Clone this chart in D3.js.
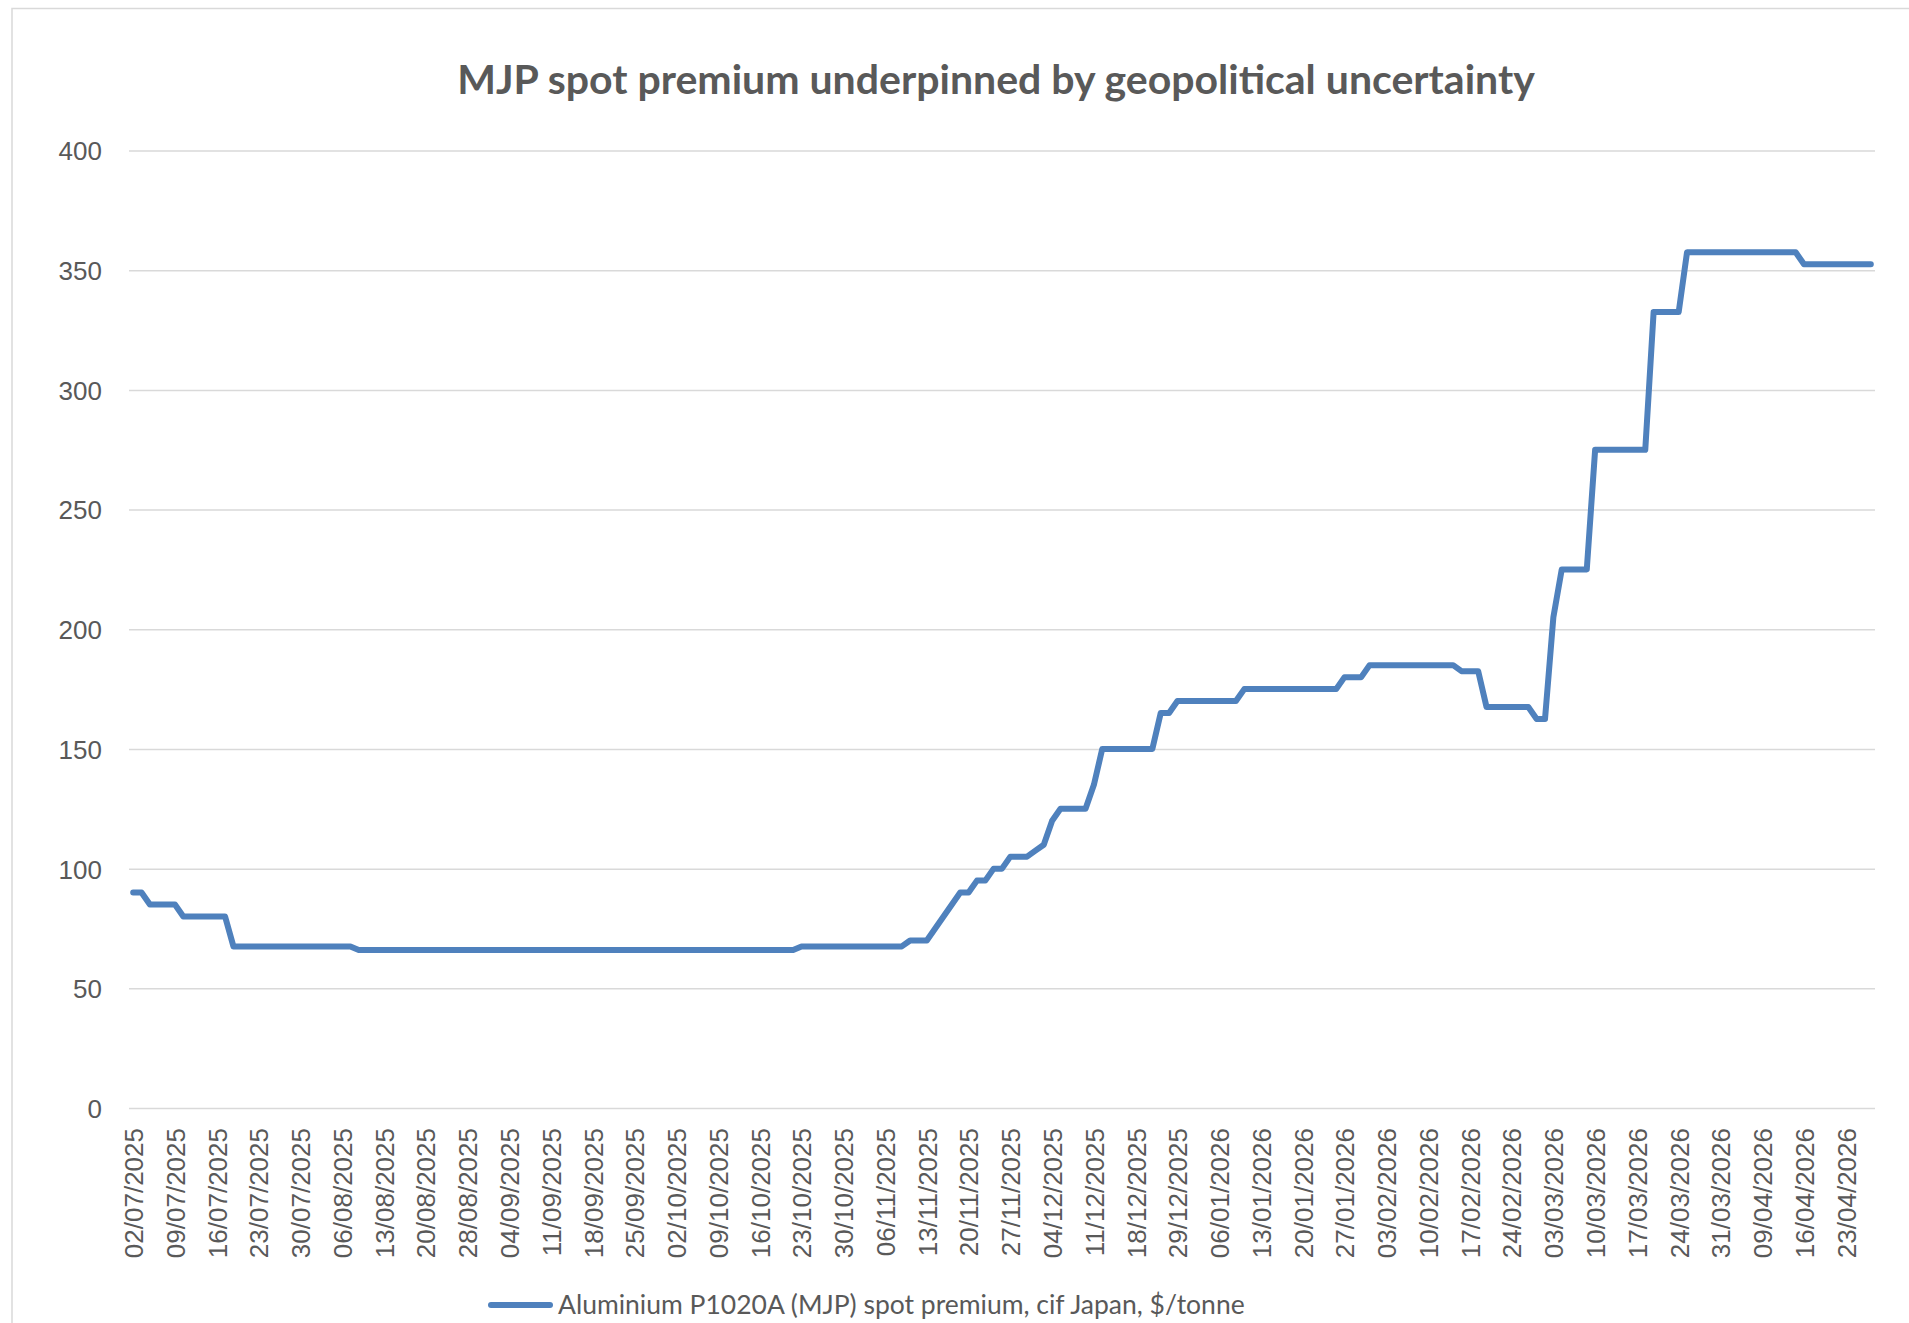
<!DOCTYPE html>
<html>
<head>
<meta charset="utf-8">
<script src="https://cdn.jsdelivr.net/npm/d3@7"></script>
<style>
  body { margin: 0; background: #fff; }
  svg { display: block; font-family: Lato, "Open Sans", sans-serif; }
</style>
</head>
<body>
<svg id="chart"></svg>
<script>
const title = "MJP spot premium underpinned by geopolitical uncertainty";
const seriesName = "Aluminium P1020A (MJP) spot premium, cif Japan, $/tonne";

// one label every 5 business days (UK calendar)
const tickLabels = [
  "02/07/2025", "09/07/2025", "16/07/2025", "23/07/2025", "30/07/2025", "06/08/2025",
  "13/08/2025", "20/08/2025", "28/08/2025", "04/09/2025", "11/09/2025", "18/09/2025",
  "25/09/2025", "02/10/2025", "09/10/2025", "16/10/2025", "23/10/2025", "30/10/2025",
  "06/11/2025", "13/11/2025", "20/11/2025", "27/11/2025", "04/12/2025", "11/12/2025",
  "18/12/2025", "29/12/2025", "06/01/2026", "13/01/2026", "20/01/2026", "27/01/2026",
  "03/02/2026", "10/02/2026", "17/02/2026", "24/02/2026", "03/03/2026", "10/03/2026",
  "17/03/2026", "24/03/2026", "31/03/2026", "09/04/2026", "16/04/2026", "23/04/2026"
];

// daily spot premium, $/tonne
const premium = [
  90, 90, 85, 85, 85, 85, 80, 80, 80, 80,
  80, 80, 67.5, 67.5, 67.5, 67.5, 67.5, 67.5, 67.5, 67.5,
  67.5, 67.5, 67.5, 67.5, 67.5, 67.5, 67.5, 66, 66, 66,
  66, 66, 66, 66, 66, 66, 66, 66, 66, 66,
  66, 66, 66, 66, 66, 66, 66, 66, 66, 66,
  66, 66, 66, 66, 66, 66, 66, 66, 66, 66,
  66, 66, 66, 66, 66, 66, 66, 66, 66, 66,
  66, 66, 66, 66, 66, 66, 66, 66, 66, 66,
  67.5, 67.5, 67.5, 67.5, 67.5, 67.5, 67.5, 67.5, 67.5, 67.5,
  67.5, 67.5, 67.5, 70, 70, 70, 75, 80, 85, 90,
  90, 95, 95, 100, 100, 105, 105, 105, 107.5, 110,
  120, 125, 125, 125, 125, 135, 150, 150, 150, 150,
  150, 150, 150, 165, 165, 170, 170, 170, 170, 170,
  170, 170, 170, 175, 175, 175, 175, 175, 175, 175,
  175, 175, 175, 175, 175, 180, 180, 180, 185, 185,
  185, 185, 185, 185, 185, 185, 185, 185, 185, 182.5,
  182.5, 182.5, 167.5, 167.5, 167.5, 167.5, 167.5, 167.5, 162.5, 162.5,
  205, 225, 225, 225, 225, 275, 275, 275, 275, 275,
  275, 275, 332.5, 332.5, 332.5, 332.5, 357.5, 357.5, 357.5, 357.5,
  357.5, 357.5, 357.5, 357.5, 357.5, 357.5, 357.5, 357.5, 357.5, 357.5,
  352.5, 352.5, 352.5, 352.5, 352.5, 352.5, 352.5, 352.5, 352.5
];

const yTicks = [0, 50, 100, 150, 200, 250, 300, 350, 400];

const width = 1909, height = 1323;
const textColor = "#595959";
const gridColor = "#d9d9d9";
const lineColor = "#4f81bd";

const svg = d3.select("#chart").attr("width", width).attr("height", height);

// chart area border
svg.append("rect")
  .attr("x", 12).attr("y", 8.5)
  .attr("width", width).attr("height", height)
  .attr("fill", "#fff").attr("stroke", gridColor).attr("stroke-width", 1.5);

const xScale = d3.scalePoint()
  .domain(d3.range(premium.length))
  .range([129, 1875])
  .padding(0.5);

const yScale = d3.scaleLinear().domain([0, 400]).range([1108, 150.5]);

// horizontal gridlines + y labels
const yAxis = svg.append("g")
  .attr("transform", "translate(129,0)")
  .call(d3.axisLeft(yScale).tickValues(yTicks).tickSize(-(1875 - 129)).tickPadding(27));
yAxis.select(".domain").remove();
yAxis.selectAll(".tick line").attr("stroke", gridColor).attr("stroke-width", 1.5);
yAxis.selectAll(".tick text")
  .attr("fill", textColor)
  .style("font-size", "26px")
  .attr("dy", "0.36em");

// category axis, labels every 5th point
const xAxis = svg.append("g")
  .attr("transform", "translate(0,1108)")
  .call(d3.axisBottom(xScale)
    .tickValues(d3.range(0, premium.length, 5))
    .tickFormat((d, i) => tickLabels[i])
    .tickSize(0));
xAxis.select(".domain").remove();
xAxis.selectAll(".tick text")
  .attr("fill", textColor)
  .style("font-size", "26px")
  .attr("transform", "rotate(-90)")
  .attr("text-anchor", "end")
  .attr("x", -20)
  .attr("y", 0)
  .attr("dy", "0.36em");

// the series
const line = d3.line()
  .x((d, i) => xScale(i))
  .y((d) => yScale(d));

svg.append("path")
  .datum(premium)
  .attr("d", line)
  .attr("fill", "none")
  .attr("stroke", lineColor)
  .attr("stroke-width", 6)
  .attr("stroke-linejoin", "round")
  .attr("stroke-linecap", "round");

// title
svg.append("text")
  .attr("x", 996)
  .attr("y", 94)
  .attr("text-anchor", "middle")
  .attr("fill", textColor)
  .style("font-size", "41px")
  .style("font-weight", "bold")
  .text(title);

// legend
const legend = svg.append("g").attr("transform", "translate(488,1305)");
legend.append("line")
  .attr("x1", 3).attr("x2", 62)
  .attr("stroke", lineColor)
  .attr("stroke-width", 6)
  .attr("stroke-linecap", "round");
legend.append("text")
  .attr("x", 70)
  .attr("y", 9)
  .attr("fill", textColor)
  .style("font-size", "26.5px")
  .text(seriesName);
</script>
</body>
</html>
